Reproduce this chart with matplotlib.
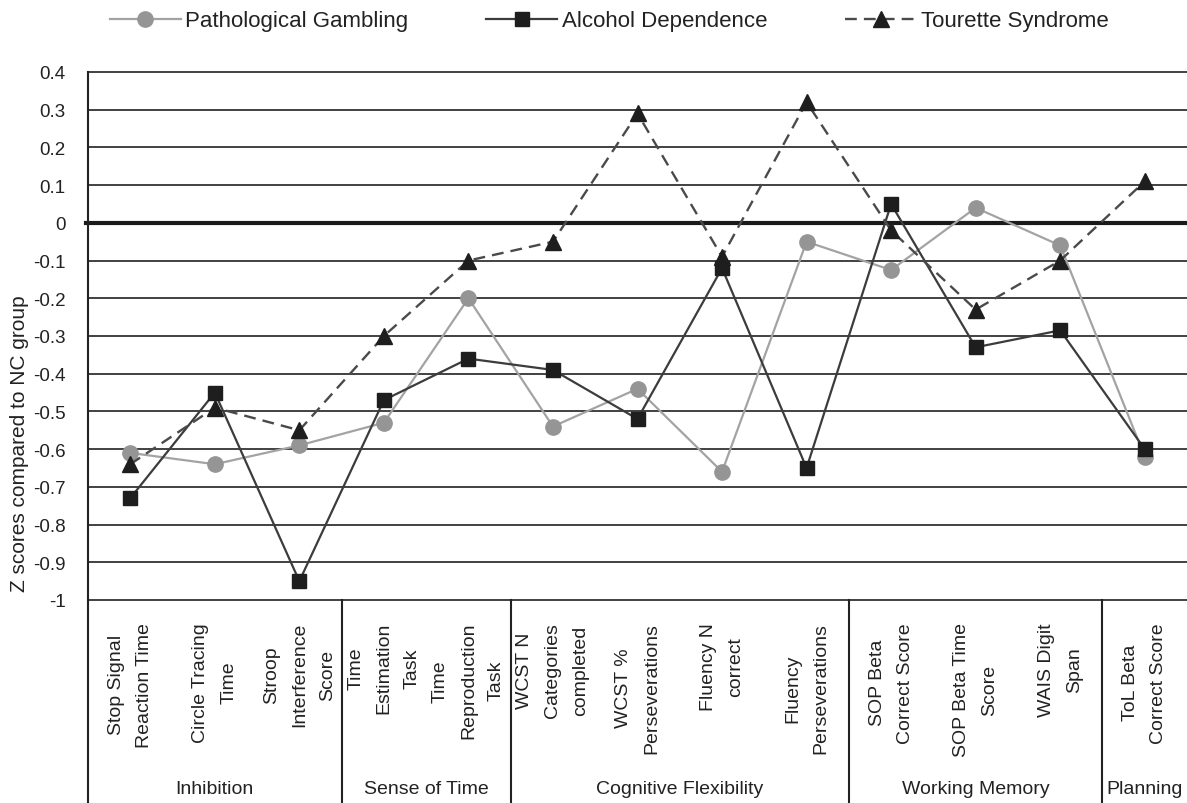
import matplotlib
matplotlib.use("Agg")
import matplotlib.pyplot as plt
import matplotlib.transforms as mtransforms
import numpy as np

plt.rcParams['font.family'] = ['Liberation Sans', 'DejaVu Sans']

categories = ["Stop Signal\nReaction Time", "Circle Tracing\nTime",
              "Stroop\nInterference\nScore", "Time\nEstimation\nTask",
              "Time\nReproduction\nTask", "WCST N\nCategories\ncompleted",
              "WCST %\nPerseverations", "Fluency N\ncorrect",
              "Fluency\nPerseverations", "SOP Beta\nCorrect Score",
              "SOP Beta Time\nScore", "WAIS Digit\nSpan",
              "ToL Beta\nCorrect Score"]
group_names = ["Inhibition", "Sense of Time", "Cognitive Flexibility",
               "Working Memory", "Planning"]
group_sizes = [3, 2, 4, 3, 1]

pathological_gambling = [-0.61, -0.64, -0.59, -0.53, -0.20, -0.54, -0.44,
                         -0.66, -0.05, -0.125, 0.04, -0.06, -0.62]
alcohol_dependence = [-0.73, -0.45, -0.95, -0.47, -0.36, -0.39, -0.52,
                      -0.12, -0.65, 0.05, -0.33, -0.285, -0.60]
tourette_syndrome = [-0.64, -0.49, -0.55, -0.30, -0.10, -0.05, 0.29,
                     -0.09, 0.32, -0.02, -0.23, -0.10, 0.11]

ytick_values = [0.4, 0.3, 0.2, 0.1, 0, -0.1, -0.2, -0.3, -0.4, -0.5,
                -0.6, -0.7, -0.8, -0.9, -1]
ytick_labels = ["0.4", "0.3", "0.2", "0.1", "0", "-0.1", "-0.2", "-0.3",
                "-0.4", "-0.5", "-0.6", "-0.7", "-0.8", "-0.9", "-1"]

W, H = 1187, 804
fig = plt.figure(figsize=(W / 100, H / 100), dpi=100)
ax_l, ax_r, ax_t, ax_b = 88, 1187, 73, 601
ax_w, ax_h = ax_r - ax_l, ax_b - ax_t
ax = fig.add_axes([ax_l / W, 1 - ax_b / H, ax_w / W, ax_h / H])

x = np.arange(len(categories))
ax.set_xlim(-0.5, len(categories) - 0.5)
ax.set_ylim(-1, 0.4)

grid_color = '#333333'
for v in ytick_values:
    if v == 0:
        ax.axhline(v, xmin=-2 / ax_w, color='#1a1a1a', lw=3.0, zorder=1,
                   clip_on=False)
    else:
        ax.axhline(v, color=grid_color, lw=1.3, zorder=1, clip_on=False)

ax.plot(x, pathological_gambling, color='#a3a3a3', lw=1.6, marker='o',
        markersize=11, markerfacecolor='#959595', markeredgecolor='#959595',
        label='Pathological Gambling', zorder=3)
ax.plot(x, alcohol_dependence, color='#3c3c3c', lw=1.6, marker='s',
        markersize=10, markerfacecolor='#1e1e1e', markeredgecolor='#1e1e1e',
        label='Alcohol Dependence', zorder=4)
ax.plot(x, tourette_syndrome, color='#4a4a4a', lw=1.7, linestyle=(0, (5, 3)),
        marker='^', markersize=11.5, markerfacecolor='#1e1e1e',
        markeredgecolor='#1e1e1e', label='Tourette Syndrome', zorder=5)

for s in ['top', 'right', 'bottom']:
    ax.spines[s].set_visible(False)
ax.spines['left'].set_color('#222222')
ax.spines['left'].set_linewidth(1.5)

ax.set_yticks(ytick_values)
ax.set_yticklabels(ytick_labels, fontsize=13.5, color='#222222')
ax.tick_params(axis='y', length=0, pad=16)
ax.set_xticks([])
ax.set_ylabel("Z scores compared to NC group", fontsize=15, color='#222222')
ax.yaxis.set_label_coords((29 - ax_l) / ax_w, (ax_b - 444) / ax_h)

trans = mtransforms.blended_transform_factory(ax.transData, ax.transAxes)
bottom_ax = -(H - ax_b) / ax_h

bounds = np.cumsum([0] + group_sizes) - 0.5
for b in bounds[:-1]:
    ax.plot([b, b], [0, bottom_ax], transform=trans, color='#222222',
            lw=1.5, clip_on=False, zorder=2)

cat_y = -(623 - ax_b) / ax_h
for xi, lab in zip(x, categories):
    ax.text(xi, cat_y, lab, transform=trans, rotation=90, ha='center',
            va='top', multialignment='center', fontsize=14, color='#222222',
            linespacing=1.85)

grp_y = -(790 - ax_b) / ax_h
for name, lo, hi in zip(group_names, bounds[:-1], bounds[1:]):
    ax.text((lo + hi) / 2, grp_y, name, transform=trans, ha='center',
            va='center', fontsize=14, color='#222222')

leg = fig.legend(loc='center', bbox_to_anchor=(609 / W, 1 - 22 / H), ncol=3,
                 frameon=False, fontsize=16, handlelength=3.2,
                 handletextpad=0.2, columnspacing=3.5)
for t in leg.get_texts():
    t.set_color('#222222')

fig.savefig("out.png", dpi=100)
